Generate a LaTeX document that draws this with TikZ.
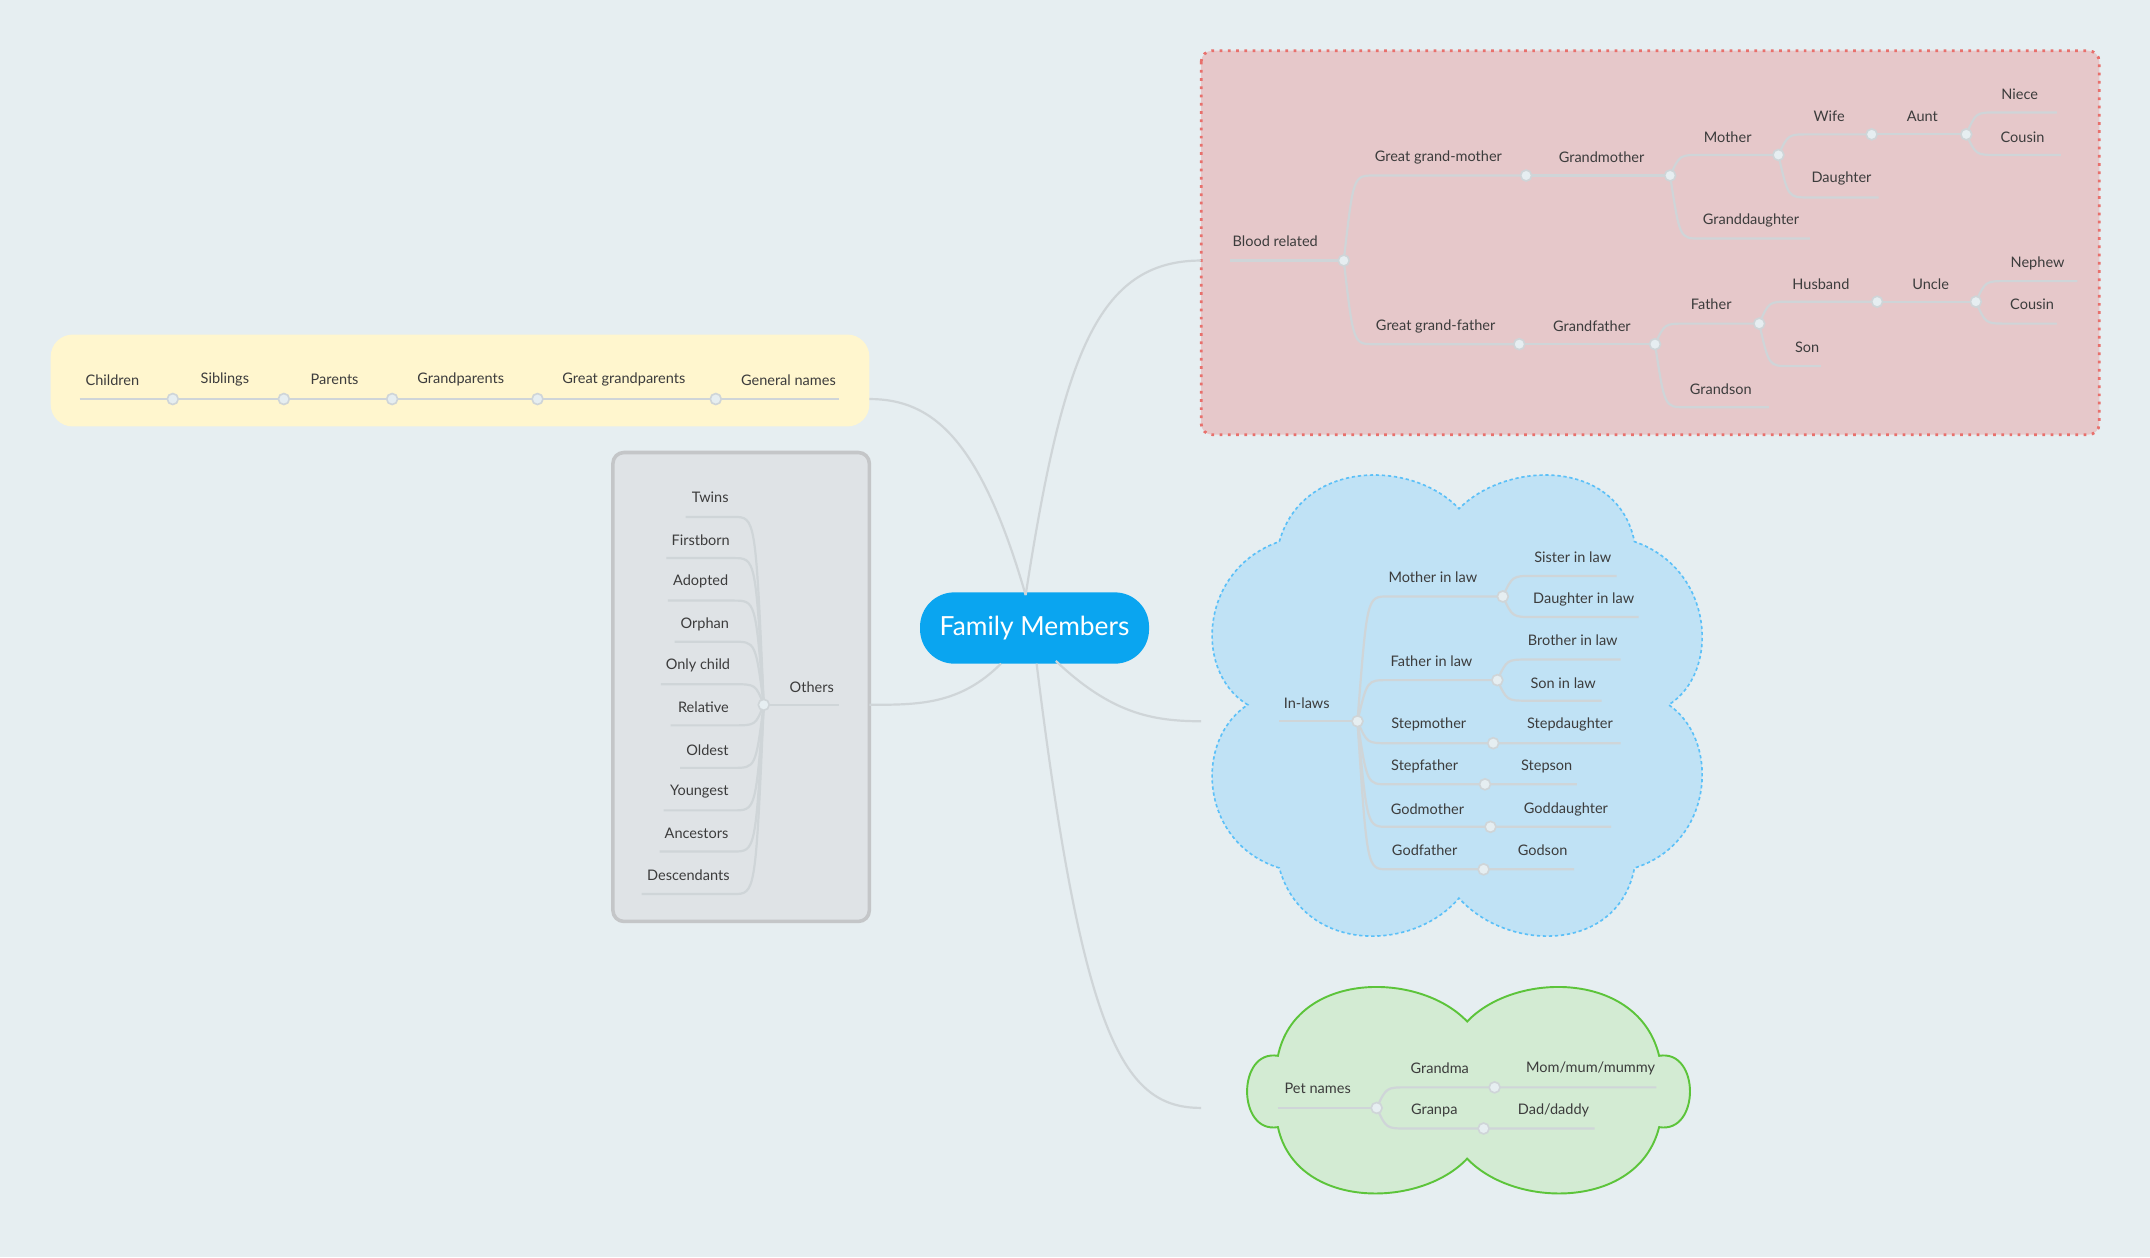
\documentclass[tikz,border=0pt]{standalone}
\usepackage{fontspec}
\setmainfont{Lato}
\definecolor{bg}{HTML}{E6EEF1}
\definecolor{lnc}{HTML}{CFD5D8}
\definecolor{txt}{HTML}{3C3C3C}
\definecolor{redf}{HTML}{E6C8CA}
\definecolor{redd}{HTML}{E8706C}
\definecolor{bluef}{HTML}{C0E2F5}
\definecolor{blued}{HTML}{5BC0F8}
\definecolor{greenf}{HTML}{D3EBD3}
\definecolor{greend}{HTML}{5CC43A}
\definecolor{yelf}{HTML}{FFF6CE}
\definecolor{greyf}{HTML}{DFE3E6}
\definecolor{greyd}{HTML}{C4C6C8}
\definecolor{mainc}{HTML}{0AA5F0}
\tikzset{
  ln/.style={draw=lnc,line width=0.8pt},
  mainln/.style={draw=lnc,line width=0.8pt},
  dotn/.style={circle,fill=bg,draw=lnc,line width=0.6pt,minimum size=4pt,inner sep=0pt},
  lbl/.style={text=txt,font=\fontsize{5.3}{6}\selectfont,inner sep=0pt},
}
\newcommand\Lb[4]{\node[lbl] (#1) at (#2,#3) {#4};}
\newcommand\Br[4]{\draw[ln] (#1,#2) .. controls (#1+7,#3) .. (#1+22,#3) -- (#4,#3);}
\newcommand\Dt[3]{\node[dotn] (#1) at (#2,#3) {};}
\begin{document}
\begin{tikzpicture}[x=0.5pt,y=-0.5pt]
\fill[bg] (0,0) rectangle (1568,917);
\useasboundingbox (0,0) rectangle (1568,917);
% containers
\draw[fill=redf,draw=redd,dotted,line width=1pt,rounded corners=4pt] (876,37) rectangle (1531,317);
\draw[fill=bluef,draw=blued,dashed,dash pattern=on 1.2pt off 1pt,line width=0.6pt]
 (933,395) .. controls (950,335) and (1030,335) .. (1064,371)
 .. controls (1100,335) and (1180,335) .. (1192,395)
 .. controls (1250,415) and (1255,490) .. (1217,514)
 .. controls (1255,540) and (1250,615) .. (1192,633)
 .. controls (1180,695) and (1100,695) .. (1064,655)
 .. controls (1030,695) and (950,695) .. (933,633)
 .. controls (875,615) and (870,540) .. (910,514)
 .. controls (870,490) and (875,415) .. (933,395) -- cycle;
\draw[fill=greenf,draw=greend,line width=0.7pt]
 (932,770) .. controls (945,708) and (1035,708) .. (1070,745)
 .. controls (1105,708) and (1195,708) .. (1210,770)
 .. controls (1240,765) and (1240,827) .. (1210,822)
 .. controls (1195,882) and (1105,882) .. (1070,845)
 .. controls (1035,882) and (945,882) .. (932,822)
 .. controls (902,827) and (902,765) .. (932,770) -- cycle;
\fill[yelf,rounded corners=8pt] (37,244) rectangle (634,311);
\draw[fill=greyf,draw=greyd,line width=1.3pt,rounded corners=4pt] (447,330) rectangle (634,672);
% main node
\node[fill=mainc,text=white,rounded corners=12.5pt,minimum width=83.5pt,minimum height=26pt,inner sep=0pt,font=\fontsize{9.6}{11}\selectfont] (center) at (754.5,458) {Family Members};
\coordinate (redin) at (876,190);
\coordinate (bluein) at (876,526);
\coordinate (greenin) at (876,808);
\coordinate (yelin) at (634,291);
\coordinate (greyin) at (634,514);
\draw[mainln] (748,434) .. controls (775,260) and (800,190) .. (redin);
\draw[mainln] (770,482) .. controls (810,520) and (840,526) .. (bluein);
\draw[mainln] (756,484) .. controls (790,760) and (820,808) .. (greenin);
\draw[mainln] (748,434) .. controls (715,320) and (680,291) .. (yelin);
\draw[mainln] (730,484) .. controls (700,514) and (670,514) .. (greyin);
% ---------- Blood related
\draw[ln] (897,190) -- (980,190);
\Br{980}{190}{128}{1113}
\draw[ln] (1113,128) -- (1218,128);
\Br{1218}{128}{113}{1297}
\Br{1218}{128}{174}{1320}
\Br{1297}{113}{98}{1365}
\Br{1297}{113}{144}{1370}
\draw[ln] (1365,98) -- (1434,98);
\Br{1434}{98}{82}{1500}
\Br{1434}{98}{113}{1503}
\Br{980}{190}{251}{1108}
\draw[ln] (1108,251) -- (1207,251);
\Br{1207}{251}{236}{1283}
\Br{1207}{251}{297}{1290}
\Br{1283}{236}{220}{1369}
\Br{1283}{236}{267}{1328}
\draw[ln] (1369,220) -- (1441,220);
\Br{1441}{220}{205}{1515}
\Br{1441}{220}{236}{1500}
\Dt{d1}{980}{190}\Dt{d2}{1113}{128}\Dt{d3}{1218}{128}\Dt{d4}{1297}{113}
\Dt{d5}{1365}{98}\Dt{d6}{1434}{98}\Dt{d7}{1108}{251}\Dt{d8}{1207}{251}
\Dt{d9}{1283}{236}\Dt{d10}{1369}{220}\Dt{d11}{1441}{220}
\Lb{br}{930}{176}{Blood related}
\Lb{ggm}{1049}{115}{Great grand-mother}
\Lb{gm}{1168}{115}{Grandmother}
\Lb{mo}{1260}{100}{Mother}
\Lb{gd}{1277}{161}{Granddaughter}
\Lb{wi}{1334}{85}{Wife}
\Lb{da}{1343}{130}{Daughter}
\Lb{au}{1402}{85}{Aunt}
\Lb{ni}{1473}{69}{Niece}
\Lb{co1}{1475}{100}{Cousin}
\Lb{ggf}{1047}{238}{Great grand-father}
\Lb{gf}{1161}{238}{Grandfather}
\Lb{fa}{1248}{222}{Father}
\Lb{gs}{1255}{284}{Grandson}
\Lb{hu}{1328}{207}{Husband}
\Lb{so}{1318}{253}{Son}
\Lb{un}{1408}{207}{Uncle}
\Lb{ne}{1486}{192}{Nephew}
\Lb{co2}{1482}{222}{Cousin}
% ---------- In-laws
\draw[ln] (933,526) -- (990,526);
\Br{990}{526}{435}{1096}
\Br{1096}{435}{420}{1179}
\Br{1096}{435}{450}{1195}
\Br{990}{526}{496}{1092}
\Br{1092}{496}{481}{1182}
\Br{1092}{496}{511}{1168}
\Br{990}{526}{542}{1182}
\Br{990}{526}{572}{1150}
\Br{990}{526}{603}{1175}
\Br{990}{526}{634}{1148}
\Dt{e1}{990}{526}\Dt{e2}{1096}{435}\Dt{e3}{1092}{496}\Dt{e4}{1089}{542}
\Dt{e5}{1083}{572}\Dt{e6}{1087}{603}\Dt{e7}{1082}{634}
\Lb{il}{953}{513}{In-laws}
\Lb{mil}{1045}{421}{Mother in law}
\Lb{sil}{1147}{406}{Sister in law}
\Lb{dil}{1155}{437}{Daughter in law}
\Lb{fil}{1044}{482}{Father in law}
\Lb{bil}{1147}{467}{Brother in law}
\Lb{sonil}{1140}{498}{Son in law}
\Lb{sm}{1042}{528}{Stepmother}
\Lb{sd}{1145}{528}{Stepdaughter}
\Lb{sf}{1039}{559}{Stepfather}
\Lb{ss}{1128}{559}{Stepson}
\Lb{gmo}{1041}{590}{Godmother}
\Lb{gda}{1142}{590}{Goddaughter}
\Lb{gfa}{1039}{620}{Godfather}
\Lb{gso}{1125}{620}{Godson}
% ---------- Pet names
\draw[ln] (932,808) -- (1004,808);
\Br{1004}{808}{793}{1208}
\Br{1004}{808}{823}{1163}
\Dt{f1}{1004}{808}\Dt{f2}{1090}{793}\Dt{f3}{1082}{823}
\Lb{pn}{961}{794}{Pet names}
\Lb{gma}{1050}{779}{Grandma}
\Lb{mom}{1160}{779}{Mom/mum/mummy}
\Lb{gpa}{1046}{810}{Granpa}
\Lb{dad}{1133}{810}{Dad/daddy}
% ---------- Yellow chain
\draw[ln] (58,291) -- (612,291);
\Dt{y1}{126}{291}\Dt{y2}{207}{291}\Dt{y3}{286}{291}\Dt{y4}{392}{291}\Dt{y5}{522}{291}
\Lb{ch}{82}{277}{Children}
\Lb{si}{164}{277}{Siblings}
\Lb{pa}{244}{277}{Parents}
\Lb{gp}{336}{277}{Grandparents}
\Lb{ggp}{455}{277}{Great grandparents}
\Lb{gn}{575}{277}{General names}
% ---------- Others
\draw[ln] (557,514) -- (612,514);
\foreach \ly/\sx in {377/500,407/486,438/487,468/492,499/482,529/489,560/496,591/484,621/481,652/468}{
  \draw[ln] (557,514) .. controls (551,\ly) .. (535,\ly) -- (\sx,\ly);
}
\Dt{g1}{557}{514}
\Lb{ot}{592}{501}{Others}
\Lb{tw}{518}{363}{Twins}
\Lb{fb}{511}{394}{Firstborn}
\Lb{ad}{511}{424}{Adopted}
\Lb{or}{514}{455}{Orphan}
\Lb{oc}{509}{485}{Only child}
\Lb{re}{513}{516}{Relative}
\Lb{ol}{516}{547}{Oldest}
\Lb{yo}{510}{577}{Youngest}
\Lb{an}{508}{608}{Ancestors}
\Lb{de}{502}{638}{Descendants}
\end{tikzpicture}
\end{document}
